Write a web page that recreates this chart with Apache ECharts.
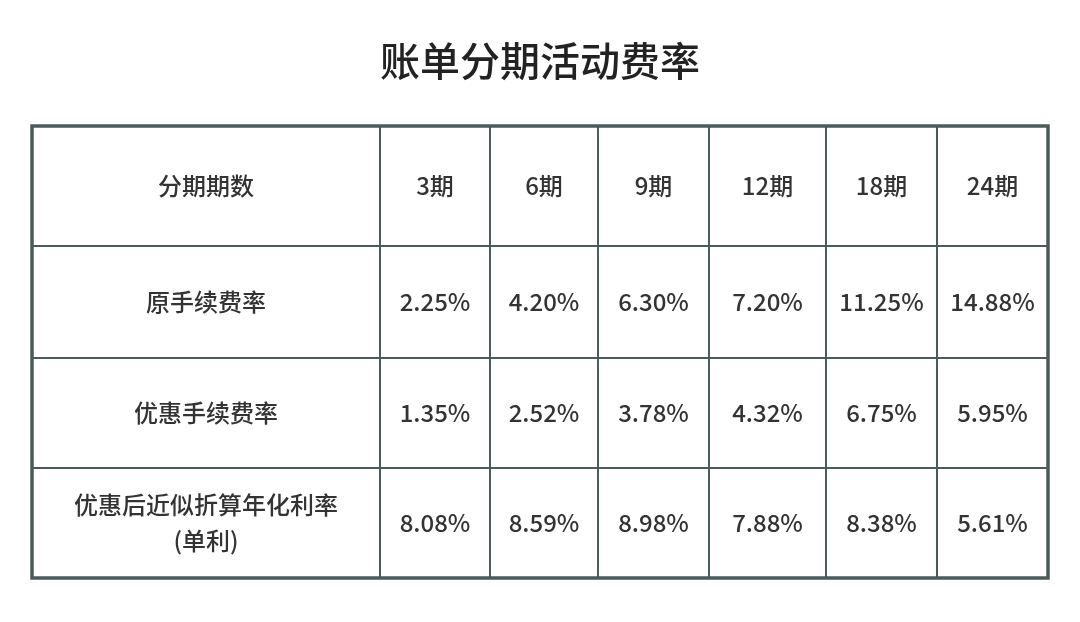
<!DOCTYPE html>
<html>
<head>
<meta charset="utf-8">
<script src="https://cdn.jsdelivr.net/npm/echarts@6/dist/echarts.min.js"></script>
<style>html,body{margin:0;padding:0;background:#fff}#chart{width:1080px;height:622px}</style>
</head>
<body>
<div id="chart"></div>
<script>
var headers = ['分期期数', '3期', '6期', '9期', '12期', '18期', '24期'];
var rowLabels = ['原手续费率', '优惠手续费率', '优惠后近似折算年化利率\n(单利)'];
var origRate = ['2.25%', '4.20%', '6.30%', '7.20%', '11.25%', '14.88%'];
var discRate = ['1.35%', '2.52%', '3.78%', '4.32%', '6.75%', '5.95%'];
var annualRate = ['8.08%', '8.59%', '8.98%', '7.88%', '8.38%', '5.61%'];

// column / row edges in axis units (layout only)
var colEdges = [0, 348, 458, 566, 677, 794, 905, 1016];
var rowEdges = [0, 120, 232, 342, 452];

var rows = [headers,
  [rowLabels[0]].concat(origRate),
  [rowLabels[1]].concat(discRate),
  [rowLabels[2]].concat(annualRate)];
var cells = [];
rows.forEach(function (r, ri) {
  r.forEach(function (t, ci) { cells.push([ci, ri, t]); });
});

var lineColor = '#4b5b59';
var chart = echarts.init(document.getElementById('chart'));
chart.setOption({
  backgroundColor: '#fff',
  animation: false,
  title: {
    text: '账单分期活动费率', left: 'center', top: 36,
    textStyle: { fontFamily: 'Noto Sans CJK SC', fontSize: 40, fontWeight: 500, color: '#222' }
  },
  grid: { left: 32, right: 32, top: 126, bottom: 44 },
  xAxis: { type: 'value', min: 0, max: 1016, show: false },
  yAxis: { type: 'value', min: 0, max: 452, inverse: true, show: false },
  series: [{
    type: 'custom',
    data: cells,
    renderItem: function (params, api) {
      var c = api.value(0), r = api.value(1);
      var p0 = api.coord([colEdges[c], rowEdges[r]]);
      var p1 = api.coord([colEdges[c + 1], rowEdges[r + 1]]);
      var t = cells[params.dataIndex][2];
      return {
        type: 'group',
        children: [{
          type: 'rect',
          shape: { x: p0[0], y: p0[1], width: p1[0] - p0[0], height: p1[1] - p0[1] },
          style: { fill: '#fff', stroke: lineColor, lineWidth: 2 }
        }, {
          type: 'text',
          style: {
            x: (p0[0] + p1[0]) / 2, y: (p0[1] + p1[1]) / 2,
            text: t, align: 'center', verticalAlign: 'middle',
            font: '500 24px "Noto Sans CJK SC"', fill: '#333', lineHeight: 36
          }
        }]
      };
    }
  }, {
    type: 'custom',
    data: [[0]],
    renderItem: function (params, api) {
      var p0 = api.coord([0, 0]), p1 = api.coord([1016, 452]);
      return {
        type: 'rect',
        shape: { x: p0[0], y: p0[1], width: p1[0] - p0[0], height: p1[1] - p0[1] },
        style: { fill: 'none', stroke: lineColor, lineWidth: 3.5 }
      };
    }
  }]
});
</script>
</body>
</html>
